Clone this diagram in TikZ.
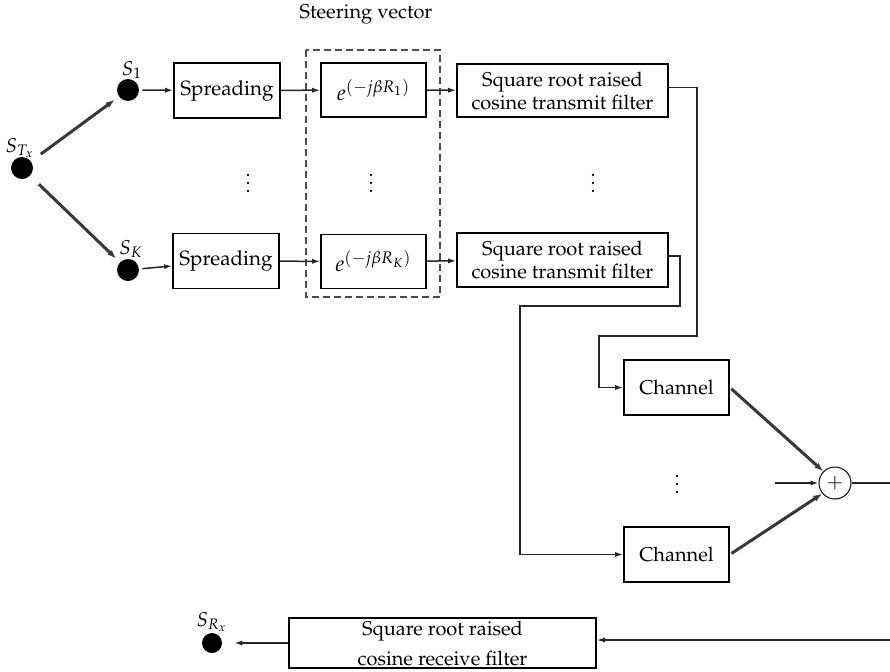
\documentclass[tikz,border=0pt]{standalone}
\usepackage[T1]{fontenc}
\usepackage{mathpazo}
\usetikzlibrary{arrows.meta,calc}
\tikzset{
  blk/.style={draw, line width=0.9pt, inner sep=0pt, align=center,
    font=\fontsize{10}{11.5}\selectfont},
  dotn/.style={circle, fill, inner sep=0pt, minimum size=11pt},
  lbl/.style={inner sep=0pt, font=\fontsize{10}{12}\selectfont},
  arr/.style={line width=0.75pt, draw=black!85, -{Latex[length=4pt,width=2.6pt]}},
  ln/.style={line width=0.75pt, draw=black!85},
  thk/.style={line width=1.5pt, draw=black!78, -{Latex[length=4.5pt,width=3.2pt]}},
}
\begin{document}
\begin{tikzpicture}[x=0.5pt,y=-0.5pt]
\useasboundingbox (0,0) rectangle (890,671);

% source dots
\node[dotn] (stx) at (22,168) {};
\node[lbl] (stxl) at (20,148) {$S_{T_x}$};
\node[dotn] (s1) at (128,90) {};
\node[lbl] (s1l) at (132,70) {$S_1$};
\node[dotn] (sk) at (128,270) {};
\node[lbl] (skl) at (131,249) {$S_K$};

% spreading
\node[blk, minimum width=53pt, minimum height=27.5pt, font=\fontsize{10.3}{12}\selectfont] (sp1) at (227,90.5) {Spreading};
\node[blk, minimum width=53pt, minimum height=27.5pt, font=\fontsize{10.3}{12}\selectfont] (spk) at (226,261) {Spreading};

% steering vector
\node[blk, minimum width=52.5pt, minimum height=27pt, font=\fontsize{11}{12}\selectfont] (st1) at (373.5,90) {$e^{(-j\beta R_1)}$};
\node[blk, minimum width=52.5pt, minimum height=27pt, font=\fontsize{11}{12}\selectfont] (stk) at (373.5,261.5) {$e^{(-j\beta R_K)}$};
\draw[line width=1.2pt, draw=black!70, dash pattern=on 3.5pt off 2pt] (306,50) rectangle (440,297);
\node[lbl] (stl) at (366,14) {Steering vector};

% transmit filters
\node[blk, minimum width=105.5pt, minimum height=26.5pt] (f1) at (562.5,90.5) {Square root raised\\cosine transmit filter};
\node[blk, minimum width=105.5pt, minimum height=27pt] (fk) at (562.5,260) {Square root raised\\cosine transmit filter};

% vdots
\node[lbl] (d1) at (248,177) {$\vdots$};
\node[lbl] (d2) at (371,177) {$\vdots$};
\node[lbl] (d3) at (593,177) {$\vdots$};
\node[lbl] (d4) at (677,478) {$\vdots$};

% channels
\node[blk, minimum width=52.5pt, minimum height=27.5pt] (ch1) at (676.5,387.5) {Channel};
\node[blk, minimum width=52.5pt, minimum height=27.5pt] (chk) at (676.5,554.5) {Channel};

% summer
\node[circle, draw, line width=0.5pt, minimum size=16pt, inner sep=0pt, font=\fontsize{10}{12}\selectfont] (sum) at (835,483) {$+$};
\coordinate (sin) at (775,483);
\coordinate (sout) at (890,483);

% receive filter
\node[blk, minimum width=153.5pt, minimum height=25pt, font=\fontsize{10}{15}\selectfont] (rf) at (442.5,643) {Square root raised\\cosine receive filter};
\node[dotn, minimum size=10pt] (srx) at (212,643) {};
\node[lbl] (srxl) at (212,622) {$S_{R_x}$};
\coordinate (rin) at (890,640);

% connectors
\draw[thk, shorten <=6pt, shorten >=2.5pt] (stx) -- (s1);
\draw[thk, shorten <=6pt, shorten >=2.5pt] (stx) -- (sk);
\draw[arr, shorten <=1.5pt] (s1) -- (sp1);
\draw[arr, shorten <=1.5pt] (sk) -- (spk);
\draw[arr] (sp1) -- (st1);
\draw[arr] (spk) -- (stk);
\draw[arr] (st1) -- (f1);
\draw[arr] (stk) -- (fk);

\coordinate (a1) at (697,336);
\coordinate (a2) at (599,336);
\draw[arr] ($(f1.east)+(0,-3)$) -| (a1) -- (a2) |- (ch1.west);
\coordinate (b1) at (680,306);
\coordinate (b2) at (520,306);
\draw[arr] ($(fk.east)+(0,-4)$) -| (b1) -- (b2) |- (chk.west);

\draw[thk, shorten <=1pt] (ch1.east) -- (sum.135);
\draw[thk, shorten <=1pt] (chk.east) -- (sum.-140);
\draw[arr] (sin) -- (sum.west);
\draw[ln] (sum.east) -- (sout);

\draw[arr] (rin) -- (rf.east |- rin);
\draw[arr, shorten >=6pt] (rf.west) -- (srx);
\end{tikzpicture}
\end{document}
